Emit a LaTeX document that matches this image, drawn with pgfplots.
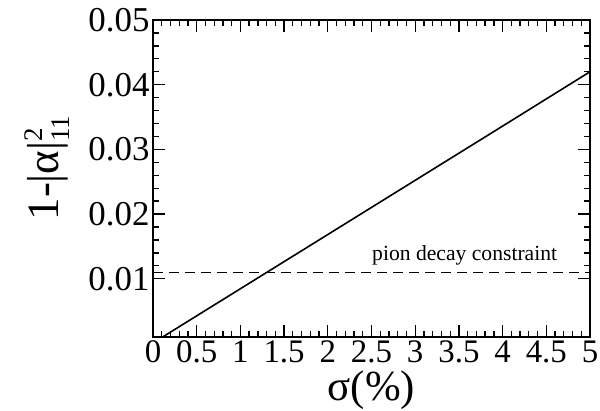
\documentclass[border=0pt]{standalone}
\usepackage{fontspec}
\setmainfont{Liberation Serif}
\usepackage{pgfplots}
\pgfplotsset{compat=1.18}
\begin{document}
\begin{tikzpicture}
\path[use as bounding box] (-153bp,-74bp) rectangle (447bp,337bp);
\begin{axis}[
  at={(0,0)}, anchor=south west,
  scale only axis, width=437bp, height=317bp,
  xmin=0, xmax=5, ymin=0.001, ymax=0.05,
  scaled y ticks=false, scaled x ticks=false,
  xtick={0,0.5,1,1.5,2,2.5,3,3.5,4,4.5,5},
  xticklabels={0,0.5,1,1.5,2,2.5,3,3.5,4,4.5,5},
  ytick={0.01,0.02,0.03,0.04,0.05},
  yticklabels={0.01,0.02,0.03,0.04,0.05},
  minor x tick num=4, minor y tick num=4,
  tick align=inside,
  major tick length=12bp, minor tick length=6bp,
  every tick/.style={black, line width=1.3bp},
  axis line style={line width=1.8bp},
  xticklabel style={font=\fontsize{33}{35}\selectfont, yshift=0bp},
  yticklabel style={font=\fontsize{35}{37}\selectfont, xshift=0bp},
  xlabel={\fontsize{43}{45}\selectfont σ(\%)},
  every axis x label/.style={at={(axis description cs:0.5,-0.169)}, anchor=center, inner sep=0pt},
  ylabel={\fontsize{45}{48}\selectfont 1-|α|\raisebox{16bp}{\fontsize{27}{29}\selectfont 2}\hspace{-13.5bp}\raisebox{-11bp}{\fontsize{27}{29}\selectfont 11}},
  every axis y label/.style={at={(axis description cs:-0.242,0.533)}, anchor=center, rotate=90},
  clip=false,
]
\addplot[black, line width=1.6bp] coordinates {(0.11,0.001) (1,0.00846) (2,0.01684) (3,0.02522) (4,0.0336) (5,0.042)};
\addplot[black, dash pattern=on 10bp off 6bp, line width=1.3bp] coordinates {(0,0.011) (5,0.011)};
\node[anchor=base west, font=\fontsize{21.7}{24}\selectfont, inner sep=0pt] at (axis cs:2.506,0.0128) {pion decay constraint};
\end{axis}
\end{tikzpicture}
\end{document}
